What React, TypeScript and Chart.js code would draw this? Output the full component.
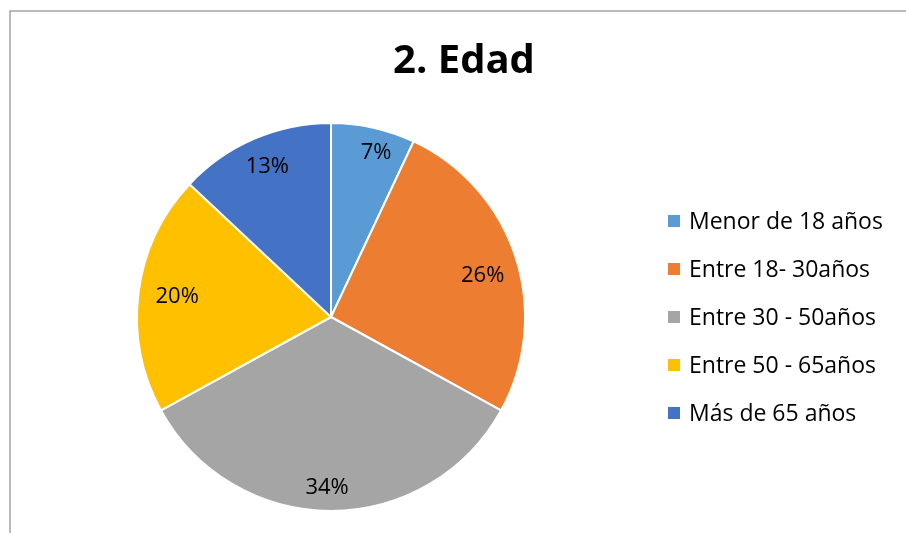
import React, { useEffect, useRef } from "react";
import { Chart, registerables } from "chart.js";

Chart.register(...registerables);

const title = "2. Edad";
const categories = [
  "Menor de 18 años",
  "Entre 18- 30años",
  "Entre 30 - 50años",
  "Entre 50 - 65años",
  "Más de 65 años",
];
const values = [7, 26, 34, 20, 13];
const colors = ["#5B9BD5", "#ED7D31", "#A5A5A5", "#FFC000", "#4472C4"];
const labelRadiusFactors = [0.88, 0.81, 0.88, 0.8, 0.84];
const labelAngleShiftDeg = [2.7, 2.9, 1.3, 0.4, 0.4];

const W = 906;
const H = 533;
const FONT = "'Open Sans', 'DejaVu Sans', sans-serif";

const decorPlugin = {
  id: "decor",
  beforeDraw(chart: any) {
    const ctx = chart.ctx;
    ctx.save();
    ctx.fillStyle = "#ffffff";
    ctx.fillRect(0, 0, chart.width, chart.height);
    ctx.strokeStyle = "#a3a3a3";
    ctx.lineWidth = 1.5;
    ctx.beginPath();
    ctx.moveTo(10, chart.height);
    ctx.lineTo(10, 11);
    ctx.lineTo(chart.width, 11);
    ctx.stroke();
    ctx.restore();
  },
  afterDraw(chart: any) {
    const ctx = chart.ctx;
    ctx.save();
    // title
    ctx.fillStyle = "#000000";
    ctx.font = `bold 40px ${FONT}`;
    ctx.textAlign = "center";
    ctx.textBaseline = "middle";
    ctx.fillText(title, 464, 62);

    // data labels
    const meta = chart.getDatasetMeta(0);
    ctx.font = `22px ${FONT}`;
    const total = values.reduce((a, b) => a + b, 0);
    meta.data.forEach((arc: any, i: number) => {
      const p = arc.getProps(["x", "y", "startAngle", "endAngle", "outerRadius"], true);
      const mid = (p.startAngle + p.endAngle) / 2 + (labelAngleShiftDeg[i] * Math.PI) / 180;
      const r = p.outerRadius * labelRadiusFactors[i];
      const x = p.x + Math.cos(mid) * r;
      const y = p.y + Math.sin(mid) * r;
      ctx.fillText(Math.round((values[i] / total) * 100) + "%", x, y);
    });

    // legend
    ctx.textAlign = "left";
    ctx.font = `23px ${FONT}`;
    const legendX = 668;
    const legendY0 = 221;
    const step = 48;
    categories.forEach((c, i) => {
      const y = legendY0 + i * step;
      ctx.fillStyle = colors[i];
      ctx.fillRect(legendX, y - 6, 12, 12);
      ctx.fillStyle = "#000000";
      ctx.fillText(c, legendX + 21, y + 1);
    });
    ctx.restore();
  },
};

export default function App() {
  const ref = useRef<HTMLCanvasElement | null>(null);
  useEffect(() => {
    if (!ref.current) return;
    const chart = new Chart(ref.current, {
      type: "pie",
      data: {
        labels: categories,
        datasets: [
          {
            data: values,
            backgroundColor: colors,
            borderColor: "#ffffff",
            borderWidth: 2,
          },
        ],
      },
      options: {
        animation: false,
        responsive: false,
        maintainAspectRatio: false,
        layout: { padding: { left: 136, right: 380, top: 122, bottom: 21 } },
        plugins: {
          legend: { display: false },
          title: { display: false },
          tooltip: { enabled: false },
        },
      },
      plugins: [decorPlugin],
    });
    return () => chart.destroy();
  }, []);
  return (
    <div style={{ position: "absolute", left: 0, top: 0, width: W, height: H, background: "#fff" }}>
      <canvas ref={ref} width={W} height={H} style={{ width: W, height: H, display: "block" }} />
    </div>
  );
}
